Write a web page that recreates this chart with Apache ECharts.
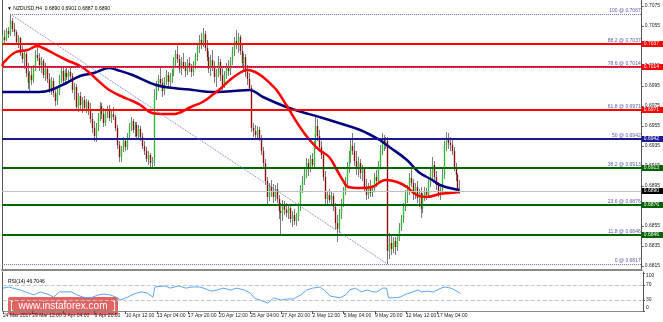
<!DOCTYPE html>
<html><head><meta charset="utf-8">
<script src="https://cdn.jsdelivr.net/npm/echarts@6.0.0/dist/echarts.min.js"></script>
<style>html,body{margin:0;padding:0;background:#fff}#c{width:663px;height:322px}</style>
</head><body><div id="c"></div>
<script>
// ---- DATA (prices in 1/10000, i.e. 7044 = 0.7044) ----
const firstBar = 1;
// candles: [open, high, low, close]
const candles = [
[7035,7046,7031,7044],[7044,7051,7038,7041],[7041,7053,7040,7050],[7050,7054,7043,7047],[7047,7067,7045,7060],
[7060,7063,7049,7052],[7052,7058,7045,7049],[7049,7051,7036,7039],[7039,7046,7033,7043],[7043,7044,7025,7028],
[7028,7035,7018,7022],[7022,7031,7012,7027],[7027,7029,7004,7008],[7008,7018,6992,6998],[6998,7010,6988,7006],
[7006,7014,6996,7001],[7001,7016,6998,7013],[7013,7031,7010,7026],[7026,7036,7020,7023],[7023,7028,7010,7016],
[7016,7024,7008,7020],[7020,7022,7003,7006],[7006,7018,7000,7012],[7012,7015,6998,7002],[7002,7008,6988,6992],
[6992,7004,6986,7000],[7000,7003,6984,6988],[6988,6991,6975,6980],[6980,6992,6976,6989],[6989,7006,6986,7003],
[7003,7014,6998,7010],[7010,7013,6996,7000],[7000,7012,6997,7008],[7008,7014,7001,7004],[7004,7011,6999,7009],
[7009,7014,7002,7005],[7005,7008,6988,6991],[6991,6998,6981,6994],[6994,6997,6970,6974],[6974,6988,6969,6985],
[6985,6989,6972,6976],[6976,6984,6968,6981],[6981,6985,6970,6973],[6973,6982,6968,6979],[6979,6981,6966,6970],
[6970,6978,6958,6962],[6962,6968,6948,6953],[6953,6960,6940,6945],[6945,6958,6939,6955],[6955,6968,6950,6964],
[6964,6979,6960,6975],[6975,6978,6962,6967],[6967,6973,6954,6958],[6958,6972,6955,6969],[6969,6975,6963,6971],
[6971,6976,6960,6963],[6963,6970,6958,6967],[6967,6974,6961,6964],[6964,6966,6950,6953],[6953,6956,6932,6936],
[6936,6940,6919,6924],[6924,6935,6919,6932],[6932,6944,6929,6940],[6940,6943,6930,6934],[6934,6948,6931,6945],
[6945,6958,6942,6955],[6955,6964,6950,6960],[6960,6962,6948,6951],[6951,6959,6944,6956],[6956,6959,6941,6945],
[6945,6956,6942,6952],[6952,6955,6940,6944],[6944,6948,6932,6935],[6935,6940,6926,6930],[6930,6934,6919,6922],
[6922,6930,6916,6926],[6926,6928,6913,6918],[6918,6924,6913,6920],[6920,6992,6915,6985],[6985,7000,6981,6996],
[6996,7006,6990,7002],[7002,7014,6995,6998],[6998,7003,6984,6990],[6990,7004,6986,7000],[7000,7011,6996,7006],
[7006,7009,6994,6999],[6999,7008,6993,7004],[7004,7012,6998,7009],[7009,7024,7005,7020],[7020,7031,7014,7027],
[7027,7036,7018,7022],[7022,7026,7008,7012],[7012,7024,7006,7019],[7019,7028,7012,7015],[7015,7019,7004,7010],
[7010,7022,7006,7018],[7018,7024,7009,7013],[7013,7017,7004,7009],[7009,7020,7005,7016],[7016,7028,7012,7025],
[7025,7038,7020,7034],[7034,7046,7028,7041],[7041,7048,7032,7036],[7036,7053,7034,7047],[7047,7050,7030,7033],
[7033,7041,7020,7024],[7024,7030,7008,7012],[7012,7026,7005,7021],[7021,7031,7010,7015],[7015,7020,6998,7004],
[7004,7012,6994,7008],[7008,7025,7004,7019],[7019,7022,7000,7006],[7006,7014,6991,6996],[6996,7010,6993,7006],
[7006,7018,7002,7014],[7014,7021,7005,7010],[7010,7024,7006,7020],[7020,7034,7016,7030],[7030,7044,7025,7040],
[7040,7051,7032,7036],[7036,7048,7028,7044],[7044,7046,7026,7030],[7030,7036,7014,7018],[7018,7028,7010,7024],
[7024,7027,7004,7009],[7009,7016,6996,7002],[7002,7008,6990,6993],[6993,6996,6949,6953],[6953,6958,6944,6950],
[6950,6956,6941,6946],[6946,6955,6942,6951],[6951,6954,6940,6943],[6943,6946,6926,6930],[6930,6934,6914,6918],
[6918,6922,6896,6900],[6900,6904,6876,6884],[6884,6898,6880,6894],[6894,6901,6884,6889],[6889,6897,6878,6884],
[6884,6896,6880,6892],[6892,6898,6878,6882],[6882,6886,6862,6870],[6870,6878,6846,6868],[6868,6881,6860,6876],
[6876,6880,6866,6871],[6871,6878,6864,6868],[6868,6876,6862,6873],[6873,6876,6858,6862],[6862,6870,6854,6866],
[6866,6872,6856,6860],[6860,6868,6855,6864],[6864,6878,6860,6875],[6875,6896,6870,6892],[6892,6905,6888,6900],
[6900,6912,6896,6908],[6908,6923,6903,6918],[6918,6922,6905,6912],[6912,6926,6909,6922],[6922,6928,6913,6916],
[6916,6940,6914,6936],[6936,6966,6932,6955],[6955,6962,6940,6945],[6945,6951,6930,6934],[6934,6940,6922,6926],
[6926,6930,6900,6904],[6904,6910,6876,6882],[6882,6890,6876,6886],[6886,6892,6878,6881],[6881,6889,6877,6885],
[6885,6888,6870,6874],[6874,6878,6852,6858],[6858,6866,6839,6852],[6852,6872,6848,6868],[6868,6882,6862,6878],
[6878,6894,6874,6890],[6890,6904,6886,6900],[6900,6919,6896,6914],[6914,6930,6908,6925],[6925,6941,6918,6935],
[6935,6948,6926,6930],[6930,6938,6915,6920],[6920,6930,6906,6912],[6912,6924,6904,6918],[6918,6922,6902,6908],
[6908,6916,6900,6912],[6912,6914,6890,6894],[6894,6902,6881,6886],[6886,6898,6882,6895],[6895,6901,6884,6888],
[6888,6896,6884,6893],[6893,6908,6890,6904],[6904,6911,6894,6900],[6900,6920,6897,6916],[6916,6936,6912,6930],
[6930,6948,6926,6942],[6942,6946,6930,6938],[6938,6944,6932,6940],[6940,6944,6817,6830],[6830,6848,6822,6838],
[6838,6845,6826,6832],[6832,6844,6828,6840],[6840,6844,6826,6834],[6834,6846,6830,6844],[6844,6858,6840,6854],
[6854,6866,6850,6862],[6862,6878,6858,6874],[6874,6891,6870,6886],[6886,6896,6878,6892],[6892,6908,6886,6903],
[6903,6914,6894,6898],[6898,6902,6881,6887],[6887,6898,6882,6894],[6894,6900,6878,6883],[6883,6892,6874,6888],
[6888,6894,6863,6872],[6872,6888,6868,6884],[6884,6894,6880,6890],[6890,6893,6881,6886],[6886,6902,6883,6898],
[6898,6912,6894,6908],[6908,6924,6902,6916],[6916,6920,6900,6904],[6904,6910,6891,6896],[6896,6899,6884,6888],
[6888,6894,6881,6891],[6891,6912,6886,6906],[6906,6940,6902,6935],[6935,6949,6930,6942],[6942,6948,6932,6938],
[6938,6944,6930,6936],[6936,6941,6926,6930],[6930,6934,6910,6914],[6914,6918,6900,6906],[6906,6908,6889,6890],
[6890,6901,6887,6890]
];
const redMaBars = [1,2,8,14,19,22,27,34,41,46,51,56,63,68,72,78,85,90,93,98,104,109,113,118,123,127,131,135,139,142,147,154,159,164,169,173,176,179,185,191,198,204,209,214,219,226,231,236];
const redMaVals = [7015,7019,7029,7031,7035,7033,7028,7021,7015,7008,6999,6991,6984,6980,6976,6968,6967,6967,6969,6974,6979,6986,6992,7001,7008,7011,7009,7004,6997,6991,6976,6954,6941,6931,6924,6911,6901,6894,6893,6894,6901,6899,6894,6886,6884,6887,6888,6889];
const blueMaBars = [1,14,20,26,34,41,48,56,60,68,80,89,99,109,120,128,135,147,155,164,174,185,195,200,209,215,222,226,231,236];
const blueMaVals = [6989,6989,6989,6991,6998,7005,7008,7013,7011,7006,6996,6993,6991,6989,6990,6991,6984,6974,6969,6964,6958,6951,6941,6934,6921,6909,6901,6896,6893,6891];
const rsiBars = [1,4,6,10,14,17,20,24,27,30,32,36,39,42,46,50,53,56,60,61,65,68,72,75,78,79,84,87,91,95,98,102,104,108,111,114,118,121,125,128,130,133,137,140,144,147,150,154,157,160,164,167,169,172,174,177,179,182,185,188,191,193,196,198,199,201,205,208,210,214,216,219,222,226,228,231,233,236];
const rsiVals = [61,64,61,56,48,43,51,45,37,51,51,51,43,37,35,43,45,43,35,29,37,45,51,48,37,64,67,61,67,61,64,64,61,53,56,61,56,61,56,48,35,29,21,35,29,32,32,43,56,61,64,51,40,37,35,43,56,61,51,56,51,51,61,61,35,35,37,45,48,56,51,53,51,61,64,61,56,47];
const fibLevels = ['100','88.2','78.6','61.8','50','38.2','23.6','11.8','0'];
const fibPrices = [0.7067,0.7037,0.7014,0.6971,0.6942,0.6913,0.6876,0.6846,0.6817];
const fibAnchorBars = [5,199];
const currentPrice = 0.6890;
const priceTicks = [0.6815,0.6835,0.6855,0.6875,0.6895,0.6915,0.6935,0.6955,0.6975,0.6995,0.7015,0.7035,0.7055,0.7075];
const rsiTicks = [0,30,70,100];
const rsiLevels = [70,30];
const tickBars = [1,16,32,48,64,80,96,112,128,144,160,176,192,208,224];
const tickLabels = ['24 Mar 2017','29 Mar 12:00','3 Apr 04:00','6 Apr 20:00','10 Apr 12:00','13 Apr 04:00','17 Apr 20:00','20 Apr 12:00','25 Apr 04:00','27 Apr 20:00','2 May 12:00','5 May 04:00','9 May 20:00','12 May 12:00','17 May 04:00'];
const titleText = 'NZDUSD,H4  0.6890 0.6901 0.6887 0.6890';
const rsiTitle = 'RSI(14) 46.7046';

// ---- STYLE ----
const P = v => v / 10000;
const X_MIN = 0.87, X_MAX = 329.7;
const FF = 'Liberation Sans, Arial, sans-serif';
const levelStyle = { '88.2':'#ff0000', '78.6':'#ff0000', '61.8':'#ff0000', '50':'#1a1a96', '38.2':'#006400', '23.6':'#006400', '11.8':'#006400' };
const fibDotColor = '#7272d6';
const fibTextColor = '#5a5aa8';

const candleData = candles.map((r, k) => [firstBar + k, P(r[0]), P(r[1]), P(r[2]), P(r[3])]);

const markData = [];
fibLevels.forEach((lv, k) => {
  const price = fibPrices[k];
  const lab = { show:true, position:'insideEndTop', formatter: lv + ' @ ' + price.toFixed(4), color: fibTextColor, fontSize:5, fontFamily:FF, distance:[1,1] };
  const visible = (lv === '100' || lv === '0' || lv === '78.6');
  const ls = { color: visible ? fibDotColor : 'rgba(0,0,0,0)', width:1, type:'dotted' };
  if (k === 0) {
    markData.push([{ coord:[fibAnchorBars[0], price], lineStyle: ls, label: lab }, { coord:[X_MAX, price] }]);
  } else {
    markData.push({ yAxis: price, lineStyle: ls, label: lab });
  }
});
fibLevels.forEach((lv, k) => {
  const c = levelStyle[lv];
  if (!c) return;
  const price = fibPrices[k];
  markData.push({ yAxis: price, lineStyle:{ color:c, width:2, type:'solid' },
    label:{ show:true, position:'end', formatter: price.toFixed(4), color:'#fff', backgroundColor:c, padding:[0,5,0,2], fontSize:5, lineHeight:6, fontFamily:FF, distance:0 } });
});
markData.push({ yAxis: fibPrices[2], lineStyle:{ color: fibDotColor, width:1, type:'dotted' }, label:{show:false} });
markData.push({ yAxis: currentPrice, lineStyle:{ color:'#c0c0c0', width:1, type:'solid' },
  label:{ show:true, position:'end', formatter: currentPrice.toFixed(4), color:'#fff', backgroundColor:'#000', padding:[0,5,0,2], fontSize:5, lineHeight:6, fontFamily:FF, distance:0 } });
markData.push([{ coord:[fibAnchorBars[0], fibPrices[0]], lineStyle:{ color: fibDotColor, width:1, type:'dotted' }, label:{show:false} }, { coord:[fibAnchorBars[1], fibPrices[8]] }]);

const chart = echarts.init(document.getElementById('c'), null, {renderer:'canvas'});
const option = {
  animation:false,
  backgroundColor:'#ffffff',
  title:[
    { text:'▼ ' + titleText, left:2, top:1, textStyle:{ fontSize:5, fontWeight:'normal', color:'#000', fontFamily:FF } },
    { text: rsiTitle, left:3, top:274, textStyle:{ fontSize:5, fontWeight:'normal', color:'#000', fontFamily:FF } }
  ],
  grid:[ { left:2, right:20, top:0, height:270 }, { left:2, right:20, top:272, height:39 } ],
  xAxis:[
    { type:'value', gridIndex:0, min:X_MIN, max:X_MAX, axisLine:{ show:true, lineStyle:{ color:'#8a8a8a', width:2 } },
      axisTick:{show:false}, axisLabel:{show:false}, splitLine:{show:false} },
    { type:'value', gridIndex:1, min:X_MIN, max:X_MAX, axisLine:{ show:true, lineStyle:{ color:'#8a8a8a', width:1 } },
      axisTick:{ show:true, customValues: tickBars, length:3, lineStyle:{color:'#555'} },
      axisLabel:{ show:true, customValues: tickBars, formatter: v => tickLabels[tickBars.indexOf(Math.round(v))] || '', align:'left', fontSize:5, margin:2, color:'#222', fontFamily:FF, hideOverlap:false },
      splitLine:{show:false} }
  ],
  yAxis:[
    { type:'value', gridIndex:0, position:'right', min:0.6811, max:0.7081,
      axisLine:{ show:true, lineStyle:{color:'#555'} }, axisTick:{ show:true, customValues: priceTicks, length:2, lineStyle:{color:'#555'} },
      axisLabel:{ show:true, customValues: priceTicks, formatter: v => v.toFixed(4), fontSize:5, margin:3, color:'#222', fontFamily:FF },
      splitLine:{show:false} },
    { type:'value', gridIndex:1, position:'right', min:0, max:104,
      axisLine:{ show:true, lineStyle:{color:'#555'} }, axisTick:{ show:true, customValues: rsiTicks, length:2, lineStyle:{color:'#555'} },
      axisLabel:{ show:true, customValues: rsiTicks, fontSize:5, margin:3, color:'#222', fontFamily:FF,
        formatter: v => v === 100 ? '{t|100}' : (v === 0 ? '{b|0}' : String(v)),
        rich:{ t:{ fontSize:5, padding:[5,0,0,0], color:'#222', fontFamily:FF }, b:{ fontSize:5, padding:[0,0,6,0], color:'#222', fontFamily:FF } } },
      splitLine:{show:false} },
    { type:'value', gridIndex:0, position:'left', min:0.6811, max:0.7081, axisLine:{ show:true, lineStyle:{color:'#555'} }, axisTick:{show:false}, axisLabel:{show:false}, splitLine:{show:false} },
    { type:'value', gridIndex:1, position:'left', min:0, max:104, axisLine:{ show:true, lineStyle:{color:'#555'} }, axisTick:{show:false}, axisLabel:{show:false}, splitLine:{show:false} }
  ],
  series:[
    { type:'custom', name:'NZDUSD', xAxisIndex:0, yAxisIndex:0, clip:true, z:2,
      encode:{ x:0, y:[1,2,3,4] }, data: candleData,
      renderItem: function(params, api){
        const i = api.value(0), o = api.value(1), h = api.value(2), l = api.value(3), c = api.value(4);
        const pH = api.coord([i,h]), pL = api.coord([i,l]), pO = api.coord([i,o]), pC = api.coord([i,c]);
        const xc = Math.round(pH[0]) + 0.5;
        const top = Math.min(pO[1], pC[1]), bot = Math.max(pO[1], pC[1]);
        const up = c >= o;
        return { type:'group', children:[
          { type:'line', shape:{ x1:xc, y1:pH[1], x2:xc, y2:pL[1] }, style:{ stroke:'#7d7d7d', lineWidth:1 } },
          { type:'rect', shape:{ x:xc-0.7, y:top, width:1.4, height:Math.max(1, bot-top) }, style:{ fill: up ? '#2fbf2f' : '#8b1010' } }
        ]};
      } },
    { type:'line', name:'MA slow', xAxisIndex:0, yAxisIndex:0, z:3, symbol:'none', smooth:0.4,
      data: blueMaBars.map((b,k) => [b, P(blueMaVals[k])]), lineStyle:{ color:'#00007f', width:2.5 } },
    { type:'line', name:'MA fast', xAxisIndex:0, yAxisIndex:0, z:4, symbol:'none', smooth:0.4,
      data: redMaBars.map((b,k) => [b, P(redMaVals[k])]), lineStyle:{ color:'#ff0000', width:2.5 } },
    { type:'line', name:'levels', xAxisIndex:0, yAxisIndex:0, z:5, data:[], symbol:'none',
      markLine:{ silent:true, animation:false, precision:4, symbol:['none','none'], data: markData } },
    { type:'line', name:'RSI', xAxisIndex:1, yAxisIndex:1, z:3, symbol:'none',
      data: rsiBars.map((b,k) => [b, rsiVals[k]]), lineStyle:{ color:'#5aa5f5', width:1 },
      markLine:{ silent:true, animation:false, symbol:['none','none'], label:{show:false},
        lineStyle:{ color:'#c4c4c4', width:1, type:'dashed' }, data: rsiLevels.map(v => ({ yAxis: v })) } }
  ],
  graphic:[
    { type:'group', left:8, top:297, z:100, children:[
      { type:'rect', shape:{ x:0, y:0, width:110, height:18, r:2 }, style:{ fill:'rgba(222,72,72,0.85)' } },
      { type:'text', x:55, y:9, style:{ text:'[  www.instaforex.com  ]', fill:'#ffffff', fontSize:10, fontFamily:FF, align:'center', verticalAlign:'middle' } }
    ] }
  ]
};
chart.setOption(option);
</script></body></html>
